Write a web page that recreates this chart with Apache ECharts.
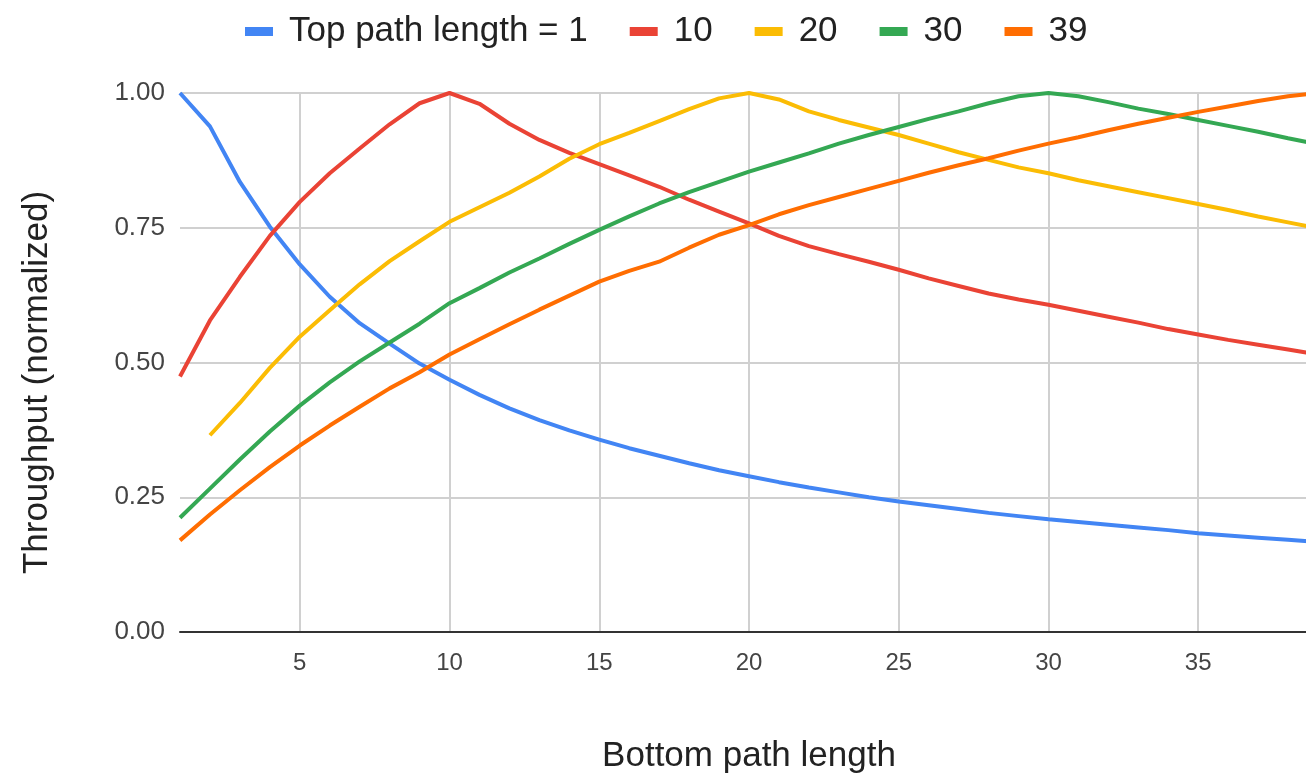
<!DOCTYPE html>
<html>
<head>
<meta charset="utf-8">
<script src="https://cdn.jsdelivr.net/npm/echarts@6/dist/echarts.min.js"></script>
<style>
html,body{margin:0;padding:0;background:#fff;overflow:hidden;}
#chart{width:1320px;height:779px;}
</style>
</head>
<body>
<div id="chart"></div>
<script>
const bottomLengths = [1,2,3,4,5,6,7,8,9,10,11,12,13,14,15,16,17,18,19,20,21,22,23,24,25,26,27,28,29,30,31,32,33,34,35,36,37,38,39];
const seriesNames = ['Top path length = 1','10','20','30','39'];
const top1  = [1.000,0.938,0.835,0.752,0.682,0.622,0.573,0.535,0.498,0.468,0.440,0.415,0.393,0.374,0.357,0.341,0.327,0.313,0.300,0.289,0.278,0.268,0.259,0.250,0.242,0.235,0.228,0.221,0.215,0.209,0.204,0.199,0.194,0.189,0.183,0.179,0.175,0.171,0.167];
const top10 = [0.474,0.578,0.659,0.735,0.798,0.851,0.897,0.942,0.981,1.000,0.980,0.943,0.913,0.889,0.868,0.847,0.826,0.802,0.780,0.758,0.735,0.716,0.701,0.687,0.672,0.656,0.642,0.628,0.617,0.607,0.596,0.585,0.574,0.562,0.552,0.542,0.533,0.524,0.515];
const top20 = [null,0.365,0.425,0.490,0.548,0.597,0.645,0.688,0.725,0.761,0.788,0.815,0.845,0.878,0.905,0.926,0.948,0.970,0.990,1.000,0.988,0.966,0.950,0.936,0.922,0.906,0.890,0.876,0.862,0.851,0.838,0.827,0.816,0.805,0.794,0.783,0.771,0.760,0.749];
const top30 = [0.212,0.266,0.320,0.372,0.420,0.463,0.502,0.537,0.572,0.610,0.638,0.667,0.693,0.720,0.746,0.771,0.795,0.816,0.835,0.854,0.871,0.888,0.906,0.922,0.937,0.952,0.966,0.981,0.994,1.000,0.994,0.983,0.971,0.961,0.950,0.939,0.928,0.916,0.905];
const top39 = [0.170,0.218,0.263,0.306,0.346,0.383,0.418,0.452,0.482,0.515,0.543,0.571,0.598,0.624,0.650,0.670,0.687,0.713,0.737,0.755,0.775,0.792,0.807,0.822,0.837,0.852,0.866,0.879,0.893,0.906,0.918,0.931,0.943,0.954,0.965,0.975,0.985,0.994,1.000];
const colors = ['#4285F4','#EA4335','#FBBC04','#34A853','#FF6D01'];
const allData = [top1, top10, top20, top30, top39];

const chart = echarts.init(document.getElementById('chart'));
const font = 'Arial, "Liberation Sans", sans-serif';
chart.setOption({
  animation: false,
  color: colors,
  legend: {
    top: 9, left: 240,
    itemWidth: 28, itemHeight: 9, itemGap: 42,
    icon: 'rect',
    textStyle: { fontSize: 35, color: '#222', fontFamily: font, padding: [0,0,0,11] },
    data: seriesNames
  },
  grid: { left: 180, right: 2, top: 93, bottom: 147, containLabel: false },
  xAxis: {
    type: 'category', data: bottomLengths, boundaryGap: false,
    name: 'Bottom path length', nameLocation: 'middle', nameGap: 107,
    nameTextStyle: { fontSize: 35, color: '#222', fontFamily: font },
    axisLine: { lineStyle: { color: '#333', width: 2 } },
    axisTick: { show: false },
    axisLabel: { interval: (i, v) => Number(v) % 5 === 0, fontSize: 24, color: '#444', fontFamily: font, margin: 19 },
    splitLine: { show: true, interval: (i, v) => Number(v) % 5 === 0, lineStyle: { color: '#d0d0d0', width: 2 } }
  },
  yAxis: {
    type: 'value', min: 0, max: 1, interval: 0.25,
    name: 'Throughput (normalized)', nameLocation: 'middle', nameGap: 125,
    nameTextStyle: { fontSize: 35, color: '#222', fontFamily: font, padding: [0, 40, 0, 0] },
    axisLine: { show: false }, axisTick: { show: false },
    axisLabel: { formatter: v => v.toFixed(2), fontSize: 26, color: '#444', fontFamily: font, margin: 15 },
    splitLine: { lineStyle: { color: '#d0d0d0', width: 2 } }
  },
  series: seriesNames.map((n, i) => ({
    name: n, type: 'line', data: allData[i], showSymbol: false, symbol: 'none',
    lineStyle: { width: 4, color: colors[i] }, itemStyle: { color: colors[i] }, z: 3 + i
  }))
});
</script>
</body>
</html>
